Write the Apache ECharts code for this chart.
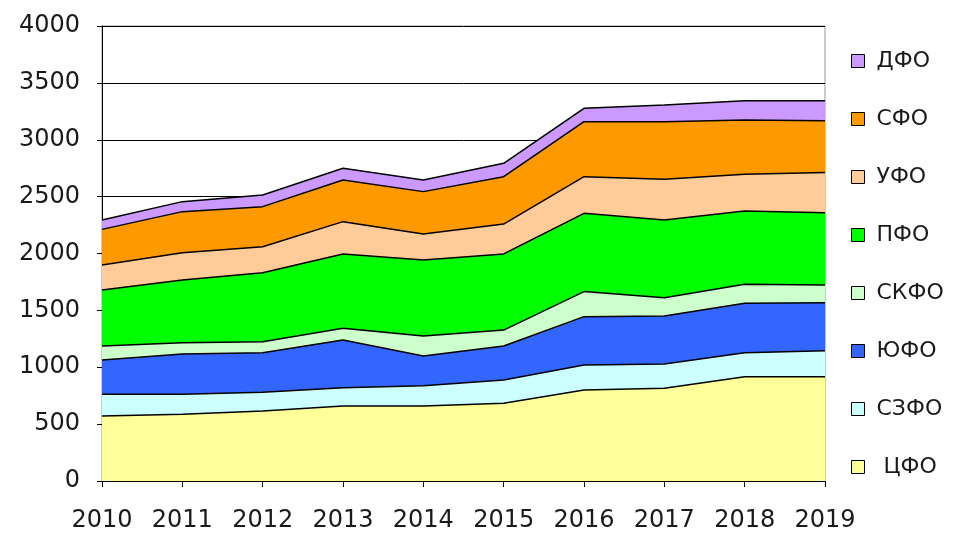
<!DOCTYPE html>
<html>
<head>
<meta charset="utf-8">
<script src="https://cdn.jsdelivr.net/npm/echarts@6/dist/echarts.min.js"></script>
<style>
  html, body { margin: 0; padding: 0; background: #fff; }
  #chart { width: 959px; height: 533px; }
</style>
</head>
<body>
<div id="chart"></div>
<script>
// годы по оси X
const years = ['2010', '2011', '2012', '2013', '2014', '2015', '2016', '2017', '2018', '2019'];

// значения по округам (снизу вверх в стеке)
const cfo  = [571, 586, 615, 659, 659, 683, 800, 815, 917, 917];
const szfo = [191, 176, 165, 161, 179, 205, 220, 214, 211, 229];
const yufo = [302, 354, 348, 420, 261, 299, 425, 422, 434, 422];
const skfo = [123, 100,  97, 102, 176, 140, 220, 160, 167, 155];
const pfo  = [492, 551, 606, 654, 668, 669, 688, 684, 645, 636];
const ufo  = [220, 240, 229, 284, 228, 263, 322, 357, 322, 352];
const sfo  = [313, 361, 352, 366, 373, 416, 484, 507, 478, 457];
const dfo  = [ 82,  88, 102, 103, 102, 118, 117, 146, 169, 175];

const names  = ['ЦФО', 'СЗФО', 'ЮФО', 'СКФО', 'ПФО', 'УФО', 'СФО', 'ДФО'];
const values = [cfo, szfo, yufo, skfo, pfo, ufo, sfo, dfo];
const colors = ['#ffff99', '#ccffff', '#3366ff', '#ccffcc', '#00ff00', '#ffcc99', '#ff9900', '#cc99ff'];

const font = 'DejaVu Sans';

const chart = echarts.init(document.getElementById('chart'));

// каждый округ — отдельная область стека
const series = names.map((name, i) => ({
    name: name,
    type: 'line',
    stack: 'total',
    data: values[i],
    showSymbol: false,
    symbol: 'none',
    lineStyle: { color: '#000', width: 1.5 },
    itemStyle: { color: colors[i], borderColor: '#000', borderWidth: 1 },
    areaStyle: { color: colors[i], opacity: 1 },
    animation: false
}));

chart.setOption({
    animation: false,
    grid: {
        left: 102, right: 134, top: 26, bottom: 52,
        outerBoundsMode: 'none',
        show: true, borderColor: '#999', borderWidth: 1
    },
    legend: {
        orient: 'vertical',
        left: 851,
        top: 50,
        padding: 0,
        data: names.slice().reverse(),
        icon: 'rect',
        itemWidth: 13,
        itemHeight: 13,
        itemGap: 36,
        itemStyle: { borderColor: '#000', borderWidth: 1 },
        formatter: name => (name === 'ЦФО' ? ' ' + name : name),
        textStyle: { fontFamily: font, fontSize: 22, color: '#1a1a1a', lineHeight: 20, padding: [0, 0, 0, 7] },
        selectedMode: false
    },
    xAxis: {
        type: 'category',
        data: years,
        boundaryGap: false,
        axisLine: { lineStyle: { color: '#000', width: 1 } },
        axisTick: { show: true, alignWithLabel: true, length: 6, lineStyle: { color: '#000' } },
        axisLabel: { fontFamily: font, fontSize: 24, color: '#1a1a1a', margin: 28 }
    },
    yAxis: {
        type: 'value',
        min: 0,
        max: 4000,
        interval: 500,
        axisLine: { show: true, lineStyle: { color: '#000', width: 1 } },
        axisTick: { show: true, length: 5, lineStyle: { color: '#000' } },
        splitLine: { show: true, lineStyle: { color: '#000', width: 1 } },
        axisLabel: { fontFamily: font, fontSize: 24, color: '#1a1a1a', margin: 22, formatter: v => String(v) }
    },
    series: series
});
</script>
</body>
</html>
